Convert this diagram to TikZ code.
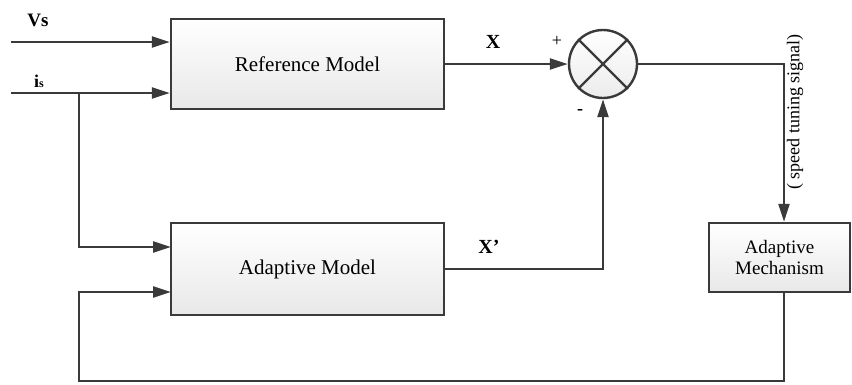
\documentclass[tikz,border=0pt]{standalone}
\usepackage{fontspec}
\setmainfont{Liberation Serif}
\usetikzlibrary{arrows.meta}
\definecolor{ln}{HTML}{3A3A3A}
\tikzset{
  blk/.style={draw=ln, line width=2.4pt, rectangle, top color=white, bottom color=gray!18, inner sep=0pt, align=center},
  sumc/.style={draw=ln, line width=2.4pt, circle, top color=white, bottom color=gray!15, minimum size=68pt, inner sep=0pt},
  wire/.style={draw=ln, line width=2.4pt},
  arr/.style={wire, -{Triangle[length=18pt,width=11pt]}},
  lbl/.style={inner sep=0pt, text=black}
}
\begin{document}
\begin{tikzpicture}[x=1pt,y=-1pt]
\useasboundingbox (0,0) rectangle (852,384);
\node[blk, minimum width=273pt, minimum height=90pt, font=\fontsize{21}{24}\selectfont] (ref) at (307.5,64) {Reference Model};
\node[blk, minimum width=273pt, minimum height=92pt, font=\fontsize{21}{24}\selectfont] (adm) at (307.5,269) {Adaptive Model};
\node[blk, minimum width=141pt, minimum height=69pt, font=\fontsize{19}{22}\selectfont] (mech) at (779.5,257.5) {Adaptive\\[-1pt]Mechanism};
\node[sumc] (sum) at (603,64) {};
\draw[wire] (sum.north west) -- (sum.south east);
\draw[wire] (sum.north east) -- (sum.south west);

\coordinate (vsin) at (11,42);
\coordinate (isin) at (11,93);
\coordinate (br) at (79,93);
\coordinate (corner) at (784,64);
\coordinate (fb1) at (784,381);
\coordinate (fb2) at (79,381);
\coordinate (xp) at (603,269);
\coordinate (adin1) at (171,247);
\coordinate (adin2) at (171,292);

\draw[arr] (vsin) -- (vsin -| ref.west);
\draw[arr] (isin) -- (isin -| ref.west);
\draw[arr] (br) |- (adin1);
\draw[arr] (ref.east |- sum) -- (sum.west);
\draw[arr] (adm.east |- xp) -- (xp) -- (sum.south);
\draw[arr] (sum.east) -- (corner) -- (corner |- mech.north);
\draw[arr] (corner |- mech.south) -- (fb1) -- (fb2) |- (adin2);

\node[lbl, font=\fontsize{19}{22}\selectfont\bfseries] (vs) at (38,20) {Vs};
\node[lbl, font=\fontsize{18}{22}\selectfont\bfseries] (is) at (39,81) {i{\fontsize{12}{14}\selectfont s}};
\node[lbl, font=\fontsize{20}{22}\selectfont\bfseries] (xl) at (493,42) {X};
\node[lbl, font=\fontsize{20}{22}\selectfont\bfseries] (xpl) at (489,247) {X’};
\node[lbl, font=\fontsize{18}{22}\selectfont] (plus) at (557,41) {+};
\node[lbl, font=\fontsize{18}{22}\selectfont\bfseries] (minus) at (580,112) {-};
\node[lbl, rotate=90, font=\fontsize{18}{22}\selectfont] (sig) at (795,112) {( speed tuning signal)};
\end{tikzpicture}
\end{document}
